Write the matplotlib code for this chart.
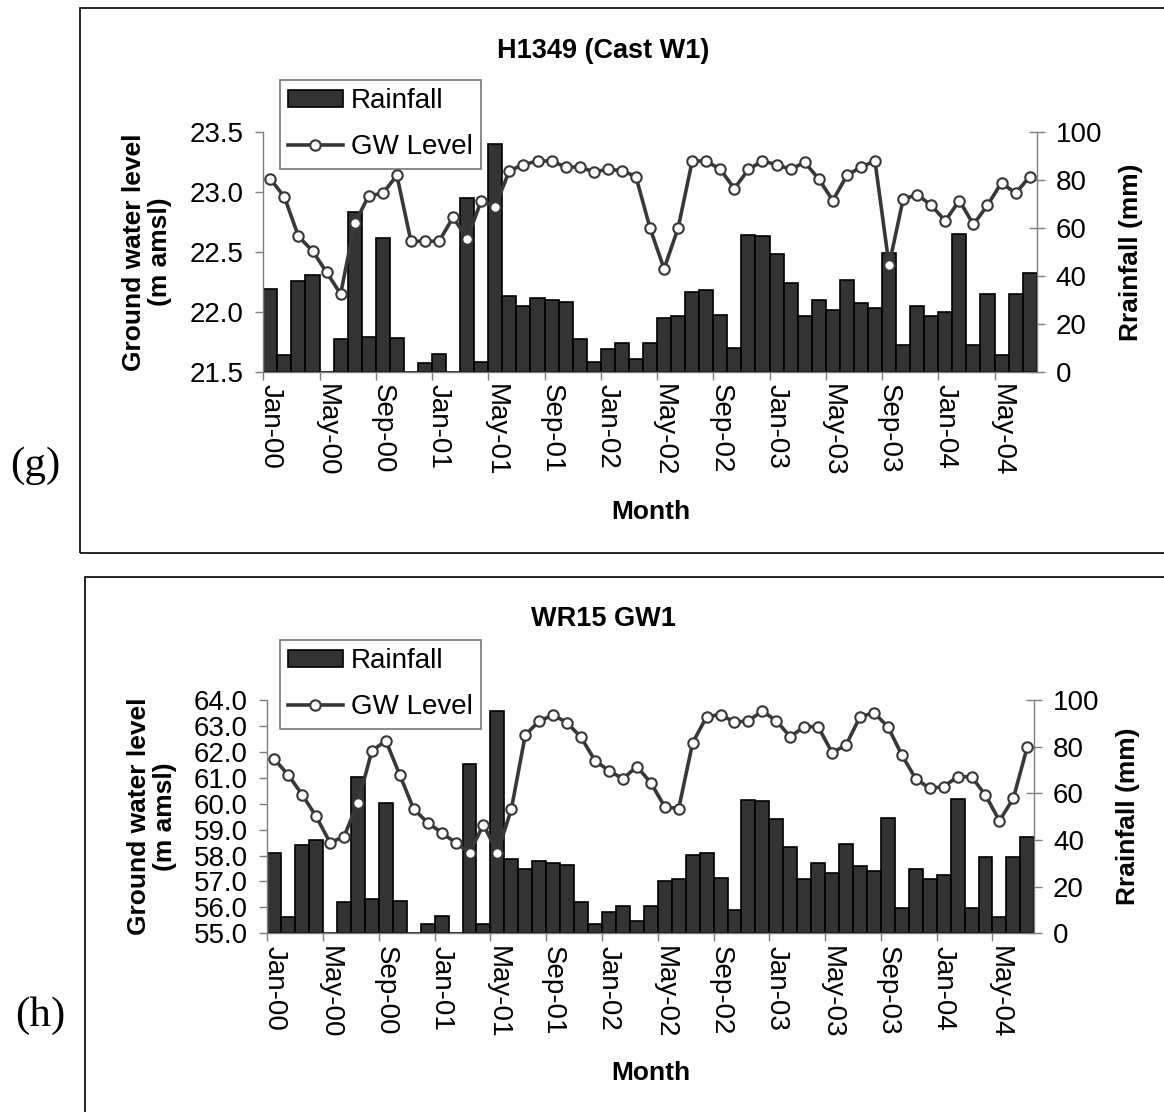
import numpy as np
import pandas as pd
import matplotlib
matplotlib.use('Agg')
import matplotlib.pyplot as plt
from matplotlib.patches import Rectangle, Patch
from matplotlib.lines import Line2D

plt.rcParams['font.family'] = 'Liberation Sans'

########
# Data #
########
months = pd.date_range('2000-01-01', periods=55, freq='MS').strftime('%b-%y').tolist()

# monthly rainfall (mm), same gauge used for both wells
rainfall = [34.4, 6.9, 37.7, 40.2, 0, 13.6, 66.8, 14.5, 55.8, 14.0,
            0, 3.8, 7.6, 0, 72.7, 4.2, 95.3, 31.8, 27.5, 30.9,
            30.1, 29.2, 13.6, 4.2, 9.3, 11.9, 5.1, 11.9, 22.5, 23.2,
            33.4, 34.3, 23.6, 10.0, 57.0, 56.6, 49.0, 37.2, 23.2, 30.0,
            25.8, 38.4, 28.7, 26.6, 49.4, 11.0, 27.5, 23.2, 24.9, 57.5,
            11.0, 32.5, 7.1, 32.5, 41.4]

# H1349 (Cast W1) ground water level (m amsl)
gw_h1349 = [23.11, 22.96, 22.63, 22.51, 22.33, 22.15, 22.74, 22.97, 22.99, 23.14,
            22.59, 22.59, 22.59, 22.79, 22.61, 22.93, 22.88, 23.18, 23.23, 23.26,
            23.26, 23.21, 23.21, 23.17, 23.19, 23.18, 23.13, 22.70, 22.36, 22.70,
            23.26, 23.26, 23.19, 23.03, 23.19, 23.26, 23.23, 23.19, 23.25, 23.11,
            22.93, 23.14, 23.21, 23.26, 22.39, 22.94, 22.98, 22.89, 22.76, 22.93,
            22.73, 22.89, 23.08, 22.99, 23.13]

# WR15 GW1 ground water level (m amsl)
gw_wr15 = [61.72, 61.11, 60.35, 59.51, 58.50, 58.73, 60.04, 62.04, 62.43, 61.11,
           59.79, 59.27, 58.88, 58.50, 58.11, 59.19, 58.11, 59.79, 62.65, 63.19,
           63.42, 63.12, 62.56, 61.66, 61.27, 60.96, 61.43, 60.81, 59.88, 59.81,
           62.35, 63.35, 63.44, 63.14, 63.20, 63.57, 63.20, 62.58, 62.97, 62.97,
           61.97, 62.26, 63.35, 63.51, 62.97, 61.88, 60.96, 60.59, 60.66, 61.04,
           61.04, 60.33, 59.34, 60.21, 62.20]

bar_color = '#333333'
line_color = '#383838'
spine_color = '#7f7f7f'
fs = 20      # tick / legend text
fs_b = 19    # bold titles and axis labels

fig = plt.figure(figsize=(11.64, 11.12), dpi=100)
W, H = 1164.0, 1112.0


def panel(rect, gw, ylim, yticks, title, title_y, letter, letter_xy, box, legend_xy, month_y):
    # rainfall on the base axes (right side), GW level on the twin so the line sits on top
    ax = fig.add_axes(rect)
    x = np.arange(len(months))
    ax.bar(x, rainfall, width=1.0, color=bar_color, edgecolor='black', linewidth=1.2, zorder=2)
    ax.set_xlim(-0.5, len(months) - 0.5)
    ax.set_ylim(0, 100)
    ax.set_yticks(np.arange(0, 101, 20))

    ax.set_xticks(x[::4])
    ax.set_xticklabels(months[::4], rotation=-90, fontsize=fs, va='top', ha='center')
    ax.set_xticks(x[::4] - 0.5, minor=True)
    ax.tick_params(axis='x', which='major', length=0, pad=9)
    ax.tick_params(axis='x', which='minor', length=6, width=1, color=spine_color)

    ax.spines['top'].set_visible(False)
    for s in ['left', 'right', 'bottom']:
        ax.spines[s].set_color(spine_color)
        ax.spines[s].set_linewidth(1)

    ax2 = ax.twinx()
    ax2.plot(x, gw, color=line_color, linewidth=2.6, marker='o', markersize=7.5,
             markerfacecolor='white', markeredgecolor=line_color, markeredgewidth=1.5)
    ax2.set_ylim(*ylim)
    ax2.set_yticks(yticks)
    ax2.set_yticklabels(['%.1f' % v for v in yticks])
    for s in ['top', 'right', 'left', 'bottom']:
        ax2.spines[s].set_visible(False)

    # twinx puts the base ticks on the left, so swap sides afterwards
    ax.yaxis.tick_right()
    ax.yaxis.set_label_position('right')
    ax.tick_params(axis='y', direction='inout', length=11, width=1, color=spine_color,
                   labelsize=fs, pad=8)
    ax.set_ylabel('Rrainfall (mm)', fontsize=fs_b, fontweight='bold')
    ax.yaxis.set_label_coords(1.107, 0.5)

    ax2.yaxis.tick_left()
    ax2.yaxis.set_label_position('left')
    ax2.tick_params(axis='y', direction='out', length=6, width=1, color=spine_color,
                    labelsize=fs, pad=8)
    ax2.set_ylabel('Ground water level\n(m amsl)', fontsize=fs_b, fontweight='bold',
                   linespacing=1.1)
    ax2.yaxis.set_label_coords(-0.118, 0.5)

    fig.text(603 / W, 1 - title_y / H, title, fontsize=fs_b + 0.5, fontweight='bold',
             ha='center', va='center')
    fig.text(651 / W, 1 - month_y / H, 'Month', fontsize=fs_b, fontweight='bold',
             ha='center', va='center')
    fig.text(letter_xy[0] / W, 1 - letter_xy[1] / H, letter, fontsize=31,
             family='Liberation Serif', ha='center', va='center')

    # outer frame of the panel
    fig.patches.append(Rectangle((box[0] / W, 1 - box[3] / H), (box[2] - box[0]) / W,
                                 (box[3] - box[1]) / H, transform=fig.transFigure,
                                 fill=False, edgecolor='black', linewidth=1.2))

    handles = [Patch(facecolor=bar_color, edgecolor='black', linewidth=1.2),
               Line2D([], [], color=line_color, linewidth=2.6, marker='o', markersize=7.5,
                      markerfacecolor='white', markeredgecolor=line_color, markeredgewidth=1.5)]
    leg = fig.legend(handles, ['Rainfall', 'GW Level'], loc='upper left',
                     bbox_to_anchor=(legend_xy[0] / W, 1 - legend_xy[1] / H),
                     fontsize=fs, frameon=True, fancybox=False, borderaxespad=0,
                     handlelength=1.95, handleheight=0.6, handletextpad=0.3,
                     labelspacing=0.72, borderpad=0.3)
    leg.get_frame().set_edgecolor('#555555')
    leg.get_frame().set_linewidth(1.2)
    return ax, ax2


####################
# H1349 (Cast W1)  #
####################
panel([263.3 / W, 1 - 371.7 / H, 773.4 / W, 239.4 / H], gw_h1349, (21.5, 23.5),
      np.arange(21.5, 23.51, 0.5), 'H1349 (Cast W1)', 51, '(g)', (35, 466),
      (80, 8, 1200, 553), (280, 80), 512)

##############
# WR15 GW1   #
##############
panel([267.3 / W, 1 - 933.3 / H, 767.0 / W, 233.3 / H], gw_wr15, (55.0, 64.0),
      np.arange(55.0, 64.01, 1.0), 'WR15 GW1', 619, '(h)', (40, 1016),
      (85, 577, 1200, 1200), (280, 640), 1073)

plt.savefig('out.png', dpi=100)
